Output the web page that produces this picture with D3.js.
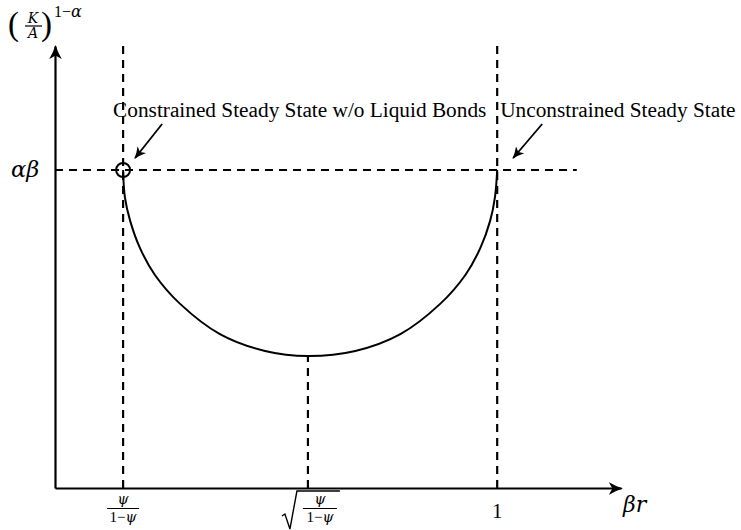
<!DOCTYPE html>
<html>
<head>
<meta charset="utf-8">
<script src="https://cdn.jsdelivr.net/npm/d3@7"></script>
<style>
  html, body { margin: 0; padding: 0; background: #fff; }
  svg { display: block; }
  text { font-family: "Liberation Serif", "Times New Roman", serif; fill: #000; }
  .math { font-family: "DejaVu Serif", serif; font-style: italic; }
  .up { font-family: "Liberation Serif", serif; font-style: normal; }
</style>
</head>
<body>
<div id="chart"></div>
<script>
// values (schematic units: beta*r on x, (K/A)^(1-alpha) on y)
const xDomain = [0, 1.28];
const yDomain = [0, 1.39];
const xTicks = [0.154, 0.572, 1];          // psi/(1-psi), sqrt(psi/(1-psi)), 1
const yLevel = 1;                          // alpha*beta
const hLineEnd = 1.18;
const curveX = [0.154, 0.158, 0.170, 0.192, 0.226, 0.283, 0.373, 0.475, 0.572, 0.679, 0.781, 0.871, 0.928, 0.962, 0.984, 0.995, 1.0];
const curveY = [1.0, 0.915, 0.840, 0.755, 0.670, 0.579, 0.484, 0.431, 0.415, 0.431, 0.484, 0.579, 0.670, 0.755, 0.840, 0.915, 1.0];
const annotations = ["Constrained Steady State w/o Liquid Bonds", "Unconstrained Steady State"];

const width = 741, height = 530;
const margin = {left: 55, right: 120, top: 46, bottom: 42};

const svg = d3.select("#chart").append("svg")
    .attr("width", width)
    .attr("height", height);

const x = d3.scaleLinear().domain(xDomain).range([margin.left, width - margin.right]);
const y = d3.scaleLinear().domain(yDomain).range([height - margin.bottom, margin.top]);

const defs = svg.append("defs");
function arrowMarker(id, size) {
  defs.append("marker")
      .attr("id", id)
      .attr("viewBox", "0 -5 10 10")
      .attr("refX", 9)
      .attr("refY", 0)
      .attr("markerUnits", "userSpaceOnUse")
      .attr("markerWidth", size)
      .attr("markerHeight", size)
      .attr("orient", "auto")
    .append("path")
      .attr("d", "M0,-4.5Q5,-1.5 10,0Q5,1.5 0,4.5L2.5,0Z")
      .attr("fill", "#000");
}
arrowMarker("axisArrow", 14);
arrowMarker("noteArrow", 12);

// dashed guide lines
const dash = "8,6";
svg.append("line")
    .attr("x1", x(0)).attr("x2", x(hLineEnd))
    .attr("y1", y(yLevel)).attr("y2", y(yLevel))
    .attr("stroke", "#000").attr("stroke-width", 2.2)
    .attr("stroke-dasharray", dash);

const curveMin = d3.min(curveY);
svg.selectAll("line.vguide")
  .data(xTicks)
  .join("line")
    .attr("class", "vguide")
    .attr("x1", d => x(d)).attr("x2", d => x(d))
    .attr("y1", y(0))
    .attr("y2", (d, i) => i === 1 ? y(curveMin) : y(yDomain[1]))
    .attr("stroke", "#000").attr("stroke-width", 2.2)
    .attr("stroke-dasharray", dash);

// axes
const xAxis = svg.append("g")
    .attr("transform", `translate(0,${y(0)})`)
    .call(d3.axisBottom(x).tickValues([]).tickSizeOuter(0));
xAxis.select(".domain")
    .attr("stroke-width", 2.2)
    .attr("marker-end", "url(#axisArrow)");

const yAxis = svg.append("g")
    .attr("transform", `translate(${x(0)},0)`)
    .call(d3.axisLeft(y).tickValues([]).tickSizeOuter(0));
yAxis.select(".domain")
    .attr("stroke-width", 2.2)
    .attr("marker-end", "url(#axisArrow)");

// the curve
const pts = curveX.map((v, i) => [v, curveY[i]]);
svg.append("path")
    .datum(pts)
    .attr("fill", "none")
    .attr("stroke", "#000")
    .attr("stroke-width", 2)
    .attr("d", d3.line().x(d => x(d[0])).y(d => y(d[1])).curve(d3.curveCatmullRom.alpha(0.5)));

// circle at constrained steady state
svg.append("circle")
    .attr("cx", x(xTicks[0]))
    .attr("cy", y(yLevel))
    .attr("r", 7)
    .attr("fill", "none")
    .attr("stroke", "#000")
    .attr("stroke-width", 2);

// annotations
const notePts = [xTicks[0], xTicks[2]];
const textX = [x(xTicks[0]) - 10, x(xTicks[2]) + 3];
svg.selectAll("text.note")
  .data(annotations)
  .join("text")
    .attr("class", "note")
    .attr("x", (d, i) => textX[i])
    .attr("y", y(yLevel) - 53)
    .attr("font-size", 21.3)
    .text(d => d);

svg.selectAll("line.note")
  .data(notePts)
  .join("line")
    .attr("class", "note")
    .attr("x1", (d, i) => x(d) + (i === 0 ? 39 : 45))
    .attr("y1", y(yLevel) - 46)
    .attr("x2", (d, i) => x(d) + (i === 0 ? 12 : 16))
    .attr("y2", y(yLevel) - 12)
    .attr("stroke", "#000")
    .attr("stroke-width", 1.8)
    .attr("marker-end", "url(#noteArrow)");

// axis labels
svg.append("text")
    .attr("class", "math")
    .attr("x", x(xDomain[1]) + 2)
    .attr("y", y(0) + 24)
    .attr("font-size", 22)
    .text("βr");

svg.append("text")
    .attr("class", "math")
    .attr("x", 11)
    .attr("y", y(yLevel) + 7)
    .attr("font-size", 22.5)
    .text("αβ");

// (K/A)^(1-α)
const yl = svg.append("g");
yl.append("text").attr("class", "up").attr("x", 8).attr("y", 35).attr("font-size", 33).text("(");
yl.append("text").attr("class", "math").attr("x", 33).attr("y", 23)
    .attr("text-anchor", "middle").attr("font-size", 14).text("K");
yl.append("line").attr("x1", 25).attr("x2", 42).attr("y1", 26).attr("y2", 26)
    .attr("stroke", "#000").attr("stroke-width", 1.2);
yl.append("text").attr("class", "math").attr("x", 33).attr("y", 38)
    .attr("text-anchor", "middle").attr("font-size", 14).text("A");
yl.append("text").attr("class", "up").attr("x", 41).attr("y", 35).attr("font-size", 33).text(")");
yl.append("text").attr("class", "up").attr("x", 54).attr("y", 17).attr("font-size", 16)
  .call(t => {
    t.append("tspan").text("1−");
    t.append("tspan").attr("class", "math").text("α");
  });

// tick labels
function fraction(g, cx, halfW) {
  g.append("text").attr("class", "math").attr("x", cx).attr("y", 504)
      .attr("text-anchor", "middle").attr("font-size", 14).text("ψ");
  g.append("line").attr("x1", cx - halfW).attr("x2", cx + halfW)
      .attr("y1", 508.5).attr("y2", 508.5)
      .attr("stroke", "#000").attr("stroke-width", 1.2);
  g.append("text").attr("class", "up").attr("x", cx).attr("y", 522)
      .attr("text-anchor", "middle").attr("font-size", 15)
    .call(t => {
      t.append("tspan").text("1−");
      t.append("tspan").attr("class", "math").attr("font-size", 14).text("ψ");
    });
}

fraction(svg.append("g"), x(xTicks[0]), 16);

const sq = svg.append("g");
const sx = x(xTicks[1]);
fraction(sq, sx + 12, 17);
sq.append("path")
    .attr("d", `M${sx - 26},${516} L${sx - 23},${514} L${sx - 18},${529} L${sx - 11},${491} L${sx + 32},${491}`)
    .attr("fill", "none")
    .attr("stroke", "#000")
    .attr("stroke-width", 1.4);

svg.append("text")
    .attr("class", "up")
    .attr("x", x(xTicks[2]))
    .attr("y", 518)
    .attr("text-anchor", "middle")
    .attr("font-size", 21)
    .text("1");
</script>
</body>
</html>
